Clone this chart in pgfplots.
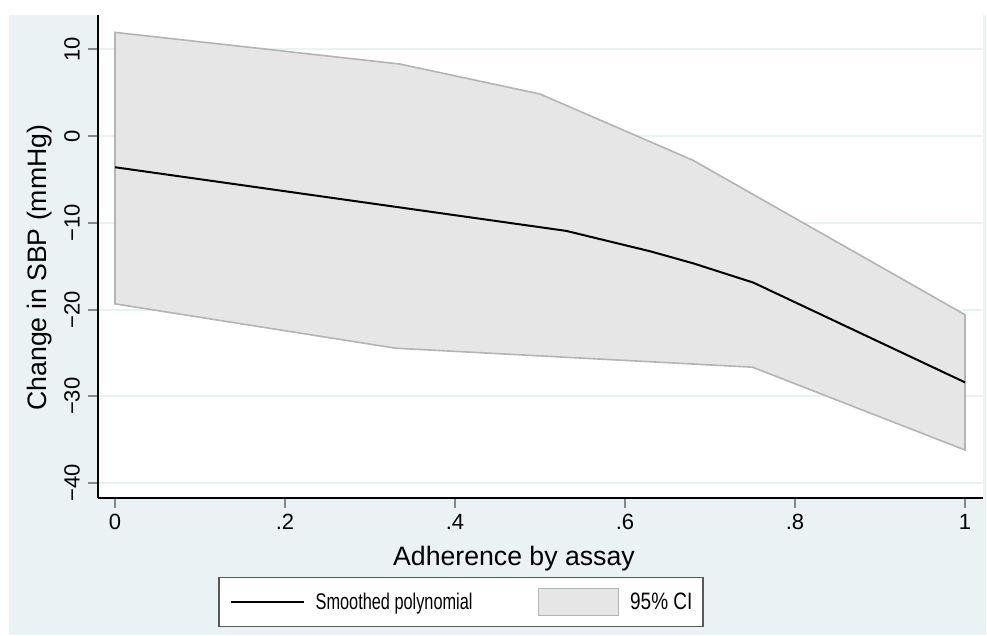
\documentclass[border=0pt]{standalone}
\usepackage{pgfplots}
\pgfplotsset{compat=1.18}
\usepackage{fontspec}
\setmainfont{Liberation Sans}
\definecolor{stbg}{RGB}{234,242,243}
\definecolor{cifill}{RGB}{230,230,230}
\definecolor{ciedge}{RGB}{180,180,180}
\definecolor{tickc}{RGB}{135,135,135}
\begin{document}
\begin{tikzpicture}
\fill[white] (-73.5pt,-102.75pt) rectangle (666.75pt,373.5pt);
\fill[stbg] (-66.75pt,-102.75pt) rectangle (666pt,362.25pt);
\begin{axis}[
  at={(0pt,0pt)}, anchor=south west,
  scale only axis, width=663.75pt, height=362.25pt,
  xmin=-0.02, xmax=1.0212, ymin=-41.73, ymax=13.95,
  axis background/.style={fill=white},
  axis x line*=bottom, axis y line*=left,
  axis line style={black, line width=1.8pt, -},
  xtick={0,0.2,0.4,0.6,0.8,1}, xticklabels={0,.2,.4,.6,.8,1},
  ytick={-40,-30,-20,-10,0,10}, yticklabels={−40,−30,−20,−10,0,10},
  tick align=outside, major tick length=7.5pt,
  tick style={tickc, line width=1.5pt},
  ymajorgrids, major grid style={stbg, line width=1.5pt},
  every tick label/.append style={font=\fontsize{16.5}{18}\selectfont},
  yticklabel style={rotate=90, anchor=south, inner xsep=0pt, inner ysep=6pt},
  xticklabel style={anchor=north, inner xsep=0pt, inner ysep=4.5pt},
  xlabel={Adherence by assay}, ylabel={Change in SBP (mmHg)},
  label style={font=\fontsize{20}{24}\selectfont},
  xlabel style={at={(axis description cs:0.470,-0.1253)}, anchor=center, inner sep=0pt},
  ylabel style={at={(axis description cs:-0.0655,0.477)}, anchor=center, inner sep=0pt},
  legend columns=2,
  legend style={at={(axis description cs:0.4102,-0.2153)}, anchor=center,
    draw=black!65, line width=1pt, fill=white, inner xsep=8pt, inner ysep=8pt,
    nodes={inner sep=0pt},
    /tikz/every odd column/.append style={column sep=8.25pt},
    /tikz/every even column/.append style={column sep=48.75pt}},
]
\addplot[fill=cifill, draw=ciedge, line width=1.2pt, forget plot] coordinates {
  (0,11.95) (0.335,8.3) (0.5,4.84) (0.68,-2.8) (1,-20.6)
  (1,-36.2) (0.75,-26.65) (0.33,-24.46) (0,-19.35)
} -- cycle;
\addplot[black, line width=1.5pt,
  legend image code/.code={\draw[black, line width=1.5pt] (0pt,0pt) -- (54.75pt,0pt);}]
  coordinates {
  (0,-3.6) (0.34,-8.3) (0.531,-10.94) (0.63,-13.3) (0.68,-14.67) (0.751,-16.9) (1,-28.4)
};
\addlegendentry{\scalebox{0.72}[1]{\fontsize{17}{20}\selectfont Smoothed polynomial}}
\addlegendimage{legend image code/.code={\draw[fill=cifill, draw=ciedge, line width=1.2pt] (0pt,-10pt) rectangle (60pt,10pt);}}
\addlegendentry{\scalebox{0.8}[1]{\fontsize{17.8}{20}\selectfont 95\% CI}}
\end{axis}
\pgfresetboundingbox
\useasboundingbox (-73.5pt,-102.75pt) rectangle (666.75pt,373.5pt);
\end{tikzpicture}
\end{document}
